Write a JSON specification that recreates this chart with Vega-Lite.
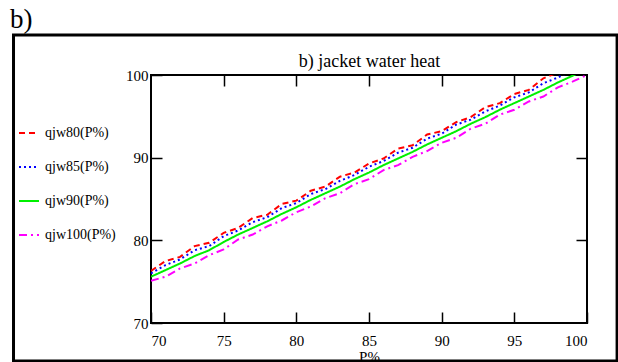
{
  "$schema": "https://vega.github.io/schema/vega-lite/v6.json",
  "width": 436,
  "height": 248,
  "autosize": {"type": "none"},
  "padding": {"left": 151, "top": 75, "right": 31, "bottom": 39},
  "background": "white",
  "title": {"text": "b)", "anchor": "start", "frame": "group", "fontSize": 27, "font": "Liberation Serif", "fontWeight": "normal", "dx": -141, "offset": -1, "color": "black"},
  "data": {"values": [
    {"P": 70, "qjw80(P%)": 76.3, "qjw85(P%)": 76.0, "qjw90(P%)": 75.6, "qjw100(P%)": 75.1},
    {"P": 71, "qjw80(P%)": 77.5, "qjw85(P%)": 77.0, "qjw90(P%)": 76.4, "qjw100(P%)": 75.6},
    {"P": 72, "qjw80(P%)": 78.0, "qjw85(P%)": 77.7, "qjw90(P%)": 77.2, "qjw100(P%)": 76.6},
    {"P": 73, "qjw80(P%)": 79.3, "qjw85(P%)": 78.8, "qjw90(P%)": 78.1, "qjw100(P%)": 77.2},
    {"P": 74, "qjw80(P%)": 79.7, "qjw85(P%)": 79.3, "qjw90(P%)": 78.8, "qjw100(P%)": 78.2},
    {"P": 75, "qjw80(P%)": 80.9, "qjw85(P%)": 80.5, "qjw90(P%)": 79.8, "qjw100(P%)": 78.9},
    {"P": 76, "qjw80(P%)": 81.5, "qjw85(P%)": 81.2, "qjw90(P%)": 80.7, "qjw100(P%)": 80.1},
    {"P": 77, "qjw80(P%)": 82.7, "qjw85(P%)": 82.2, "qjw90(P%)": 81.5, "qjw100(P%)": 80.7},
    {"P": 78, "qjw80(P%)": 83.1, "qjw85(P%)": 82.8, "qjw90(P%)": 82.3, "qjw100(P%)": 81.7},
    {"P": 79, "qjw80(P%)": 84.4, "qjw85(P%)": 83.9, "qjw90(P%)": 83.2, "qjw100(P%)": 82.4},
    {"P": 80, "qjw80(P%)": 84.8, "qjw85(P%)": 84.5, "qjw90(P%)": 84.0, "qjw100(P%)": 83.4},
    {"P": 81, "qjw80(P%)": 86.0, "qjw85(P%)": 85.6, "qjw90(P%)": 84.9, "qjw100(P%)": 84.1},
    {"P": 82, "qjw80(P%)": 86.5, "qjw85(P%)": 86.2, "qjw90(P%)": 85.7, "qjw100(P%)": 85.1},
    {"P": 83, "qjw80(P%)": 87.7, "qjw85(P%)": 87.2, "qjw90(P%)": 86.5, "qjw100(P%)": 85.7},
    {"P": 84, "qjw80(P%)": 88.2, "qjw85(P%)": 87.9, "qjw90(P%)": 87.4, "qjw100(P%)": 86.8},
    {"P": 85, "qjw80(P%)": 89.3, "qjw85(P%)": 88.9, "qjw90(P%)": 88.2, "qjw100(P%)": 87.4},
    {"P": 86, "qjw80(P%)": 89.9, "qjw85(P%)": 89.6, "qjw90(P%)": 89.1, "qjw100(P%)": 88.5},
    {"P": 87, "qjw80(P%)": 91.1, "qjw85(P%)": 90.6, "qjw90(P%)": 89.9, "qjw100(P%)": 89.1},
    {"P": 88, "qjw80(P%)": 91.5, "qjw85(P%)": 91.2, "qjw90(P%)": 90.7, "qjw100(P%)": 90.1},
    {"P": 89, "qjw80(P%)": 92.8, "qjw85(P%)": 92.3, "qjw90(P%)": 91.6, "qjw100(P%)": 90.8},
    {"P": 90, "qjw80(P%)": 93.2, "qjw85(P%)": 92.9, "qjw90(P%)": 92.4, "qjw100(P%)": 91.8},
    {"P": 91, "qjw80(P%)": 94.3, "qjw85(P%)": 94.0, "qjw90(P%)": 93.2, "qjw100(P%)": 92.4},
    {"P": 92, "qjw80(P%)": 94.9, "qjw85(P%)": 94.6, "qjw90(P%)": 94.1, "qjw100(P%)": 93.5},
    {"P": 93, "qjw80(P%)": 96.1, "qjw85(P%)": 95.6, "qjw90(P%)": 94.9, "qjw100(P%)": 94.1},
    {"P": 94, "qjw80(P%)": 96.6, "qjw85(P%)": 96.3, "qjw90(P%)": 95.8, "qjw100(P%)": 95.2},
    {"P": 95, "qjw80(P%)": 97.7, "qjw85(P%)": 97.3, "qjw90(P%)": 96.6, "qjw100(P%)": 95.8},
    {"P": 96, "qjw80(P%)": 98.2, "qjw85(P%)": 97.9, "qjw90(P%)": 97.4, "qjw100(P%)": 96.8},
    {"P": 97, "qjw80(P%)": 99.6, "qjw85(P%)": 99.0, "qjw90(P%)": 98.2, "qjw100(P%)": 97.4},
    {"P": 98, "qjw80(P%)": 100.3, "qjw85(P%)": 99.7, "qjw90(P%)": 99.1, "qjw100(P%)": 98.5},
    {"P": 99, "qjw80(P%)": 101.1, "qjw85(P%)": 100.6, "qjw90(P%)": 99.9, "qjw100(P%)": 99.2},
    {"P": 100, "qjw80(P%)": 101.6, "qjw85(P%)": 101.3, "qjw90(P%)": 100.8, "qjw100(P%)": 100.0}
  ]},
  "transform": [{"fold": ["qjw80(P%)", "qjw85(P%)", "qjw90(P%)", "qjw100(P%)"], "as": ["s", "v"]}],
  "layer": [
    {
      "data": {"values": [{}]},
      "mark": {"type": "rect", "fill": "white", "fillOpacity": 0, "stroke": "black", "strokeWidth": 3, "clip": false},
      "encoding": {
        "x": {"datum": 60.54, "type": "quantitative", "axis": null},
        "x2": {"datum": 102.07},
        "y": {"datum": 104.84, "type": "quantitative", "axis": null},
        "y2": {"datum": 65.4}
      }
    },
    {
      "mark": {"type": "line", "strokeWidth": 2, "clip": true},
      "encoding": {
        "x": {"field": "P", "type": "quantitative", "scale": {"domain": [70, 100], "nice": false, "zero": false},
              "axis": {"orient": "bottom", "values": [70, 75, 80, 85, 90, 95, 100], "title": "P%", "labelPadding": 21, "titlePadding": 1, "titleFontSize": 15}},
        "y": {"field": "v", "type": "quantitative", "scale": {"domain": [70, 100], "nice": false, "zero": false},
              "axis": {"orient": "left", "values": [70, 80, 90, 100], "title": null, "labelPadding": 14}},
        "color": {"field": "s", "type": "nominal",
                  "scale": {"domain": ["qjw80(P%)", "qjw85(P%)", "qjw90(P%)", "qjw100(P%)"], "range": ["#ff0000", "#0000ff", "#00f000", "#ff00ff"]},
                  "legend": {"orient": "none", "legendX": -133, "legendY": 47, "title": null, "symbolType": "stroke", "symbolSize": 400, "symbolStrokeWidth": 2, "labelFont": "Liberation Serif", "labelFontSize": 14, "labelColor": "black", "rowPadding": 16, "labelOffset": 5}},
        "strokeDash": {"field": "s", "type": "nominal",
                       "scale": {"domain": ["qjw80(P%)", "qjw85(P%)", "qjw90(P%)", "qjw100(P%)"], "range": [[6, 4], [2, 3], [1, 0], [8, 4, 2, 4]]},
                       "legend": {"orient": "none", "legendX": -133, "legendY": 47, "title": null, "symbolType": "stroke", "symbolSize": 400, "symbolStrokeWidth": 2, "labelFont": "Liberation Serif", "labelFontSize": 14, "labelColor": "black", "rowPadding": 16, "labelOffset": 5}}
      }
    },
    {
      "mark": {"type": "point", "opacity": 0},
      "encoding": {
        "x": {"field": "P", "type": "quantitative", "scale": {"domain": [70, 100], "nice": false, "zero": false},
              "axis": {"orient": "top", "values": [75, 80, 85, 90, 95], "labels": false, "title": "b) jacket water heat", "titleFontSize": 18, "titlePadding": 4}},
        "y": {"field": "v", "type": "quantitative", "scale": {"domain": [70, 100], "nice": false, "zero": false},
              "axis": {"orient": "right", "values": [80, 90], "labels": false, "title": null}}
      }
    }
  ],
  "resolve": {"axis": {"x": "independent", "y": "independent"}},
  "config": {
    "view": {"stroke": "black", "strokeWidth": 2},
    "axis": {"domain": false, "grid": false, "tickColor": "black", "tickWidth": 1.5, "tickSize": -11,
             "labelFont": "Liberation Serif", "labelFontSize": 15, "labelColor": "black",
             "titleFont": "Liberation Serif", "titleFontWeight": "normal", "titleColor": "black"}
  }
}
